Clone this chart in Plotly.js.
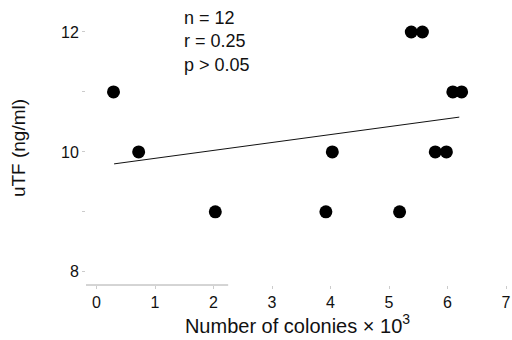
<!DOCTYPE html>
<html><head><meta charset="utf-8">
<script src="https://cdn.plot.ly/plotly-3.0.1.min.js"></script>
<style>html,body{margin:0;padding:0;background:#fff;}#chart{width:512px;height:340px;}</style>
</head><body><div id="chart"></div>
<script>
const colonies = [0.29, 0.72, 2.03, 3.92, 4.03, 5.18, 5.38, 5.57, 5.79, 5.98, 6.09, 6.24];
const utf      = [11, 10, 9, 9, 10, 9, 12, 12, 10, 10, 11, 11];
const fitX = [0.3, 6.2];
const fitY = [9.8, 10.58];
const yTickVals = [8, 10, 12];
const yMinorTickVals = [9, 11];
const xTickVals = [0, 1, 2, 3, 4, 5, 6, 7];
const statsText = 'n = 12<br>r = 0.25<br>p > 0.05';

const fam = 'Liberation Sans, Arial, sans-serif';

Plotly.newPlot('chart', [
  {x: fitX, y: fitY, mode: 'lines', line: {color: '#111', width: 1}, hoverinfo: 'skip'},
  {x: colonies, y: utf, mode: 'markers', marker: {color: '#000', size: 13}}
], {
  width: 512, height: 340,
  margin: {l: 86, r: 3, t: 11, b: 55},
  showlegend: false,
  paper_bgcolor: '#fff', plot_bgcolor: '#fff',
  font: {family: fam, size: 16, color: '#111'},
  xaxis: {
    range: [-0.18, 7.05], tickvals: xTickVals, showgrid: false, zeroline: false,
    showline: false, ticks: 'outside', ticklen: 3, tickcolor: '#ccc',
    tickfont: {family: fam, size: 16, color: '#111'},
    title: {text: 'Number of colonies \u00d7 10<sup>3</sup>', font: {family: fam, size: 20, color: '#111'}, standoff: 5}
  },
  yaxis: {
    range: [7.78, 12.35], tickvals: yTickVals, showgrid: false, zeroline: false,
    showline: false, ticks: 'outside', ticklen: 3, tickcolor: '#ccc',
    minor: {tickvals: yMinorTickVals, ticks: 'outside', ticklen: 3, tickcolor: '#ccc', showgrid: false},
    tickfont: {family: fam, size: 16, color: '#111'},
    title: {text: 'uTF (ng/ml)', font: {family: fam, size: 19, color: '#111'}, standoff: 30}
  },
  shapes: [
    {type: 'line', xref: 'x', yref: 'paper', x0: -0.18, x1: 2.25, y0: 0, y1: 0, line: {color: '#aaa', width: 1}}
  ],
  annotations: [
    {xref: 'paper', yref: 'paper', x: (182 - 86) / 423, y: 1.02, xanchor: 'left', yanchor: 'top',
     text: statsText, showarrow: false, align: 'left', font: {family: fam, size: 18, color: '#111'}}
  ]
}, {displayModeBar: false, staticPlot: true});
</script></body></html>
